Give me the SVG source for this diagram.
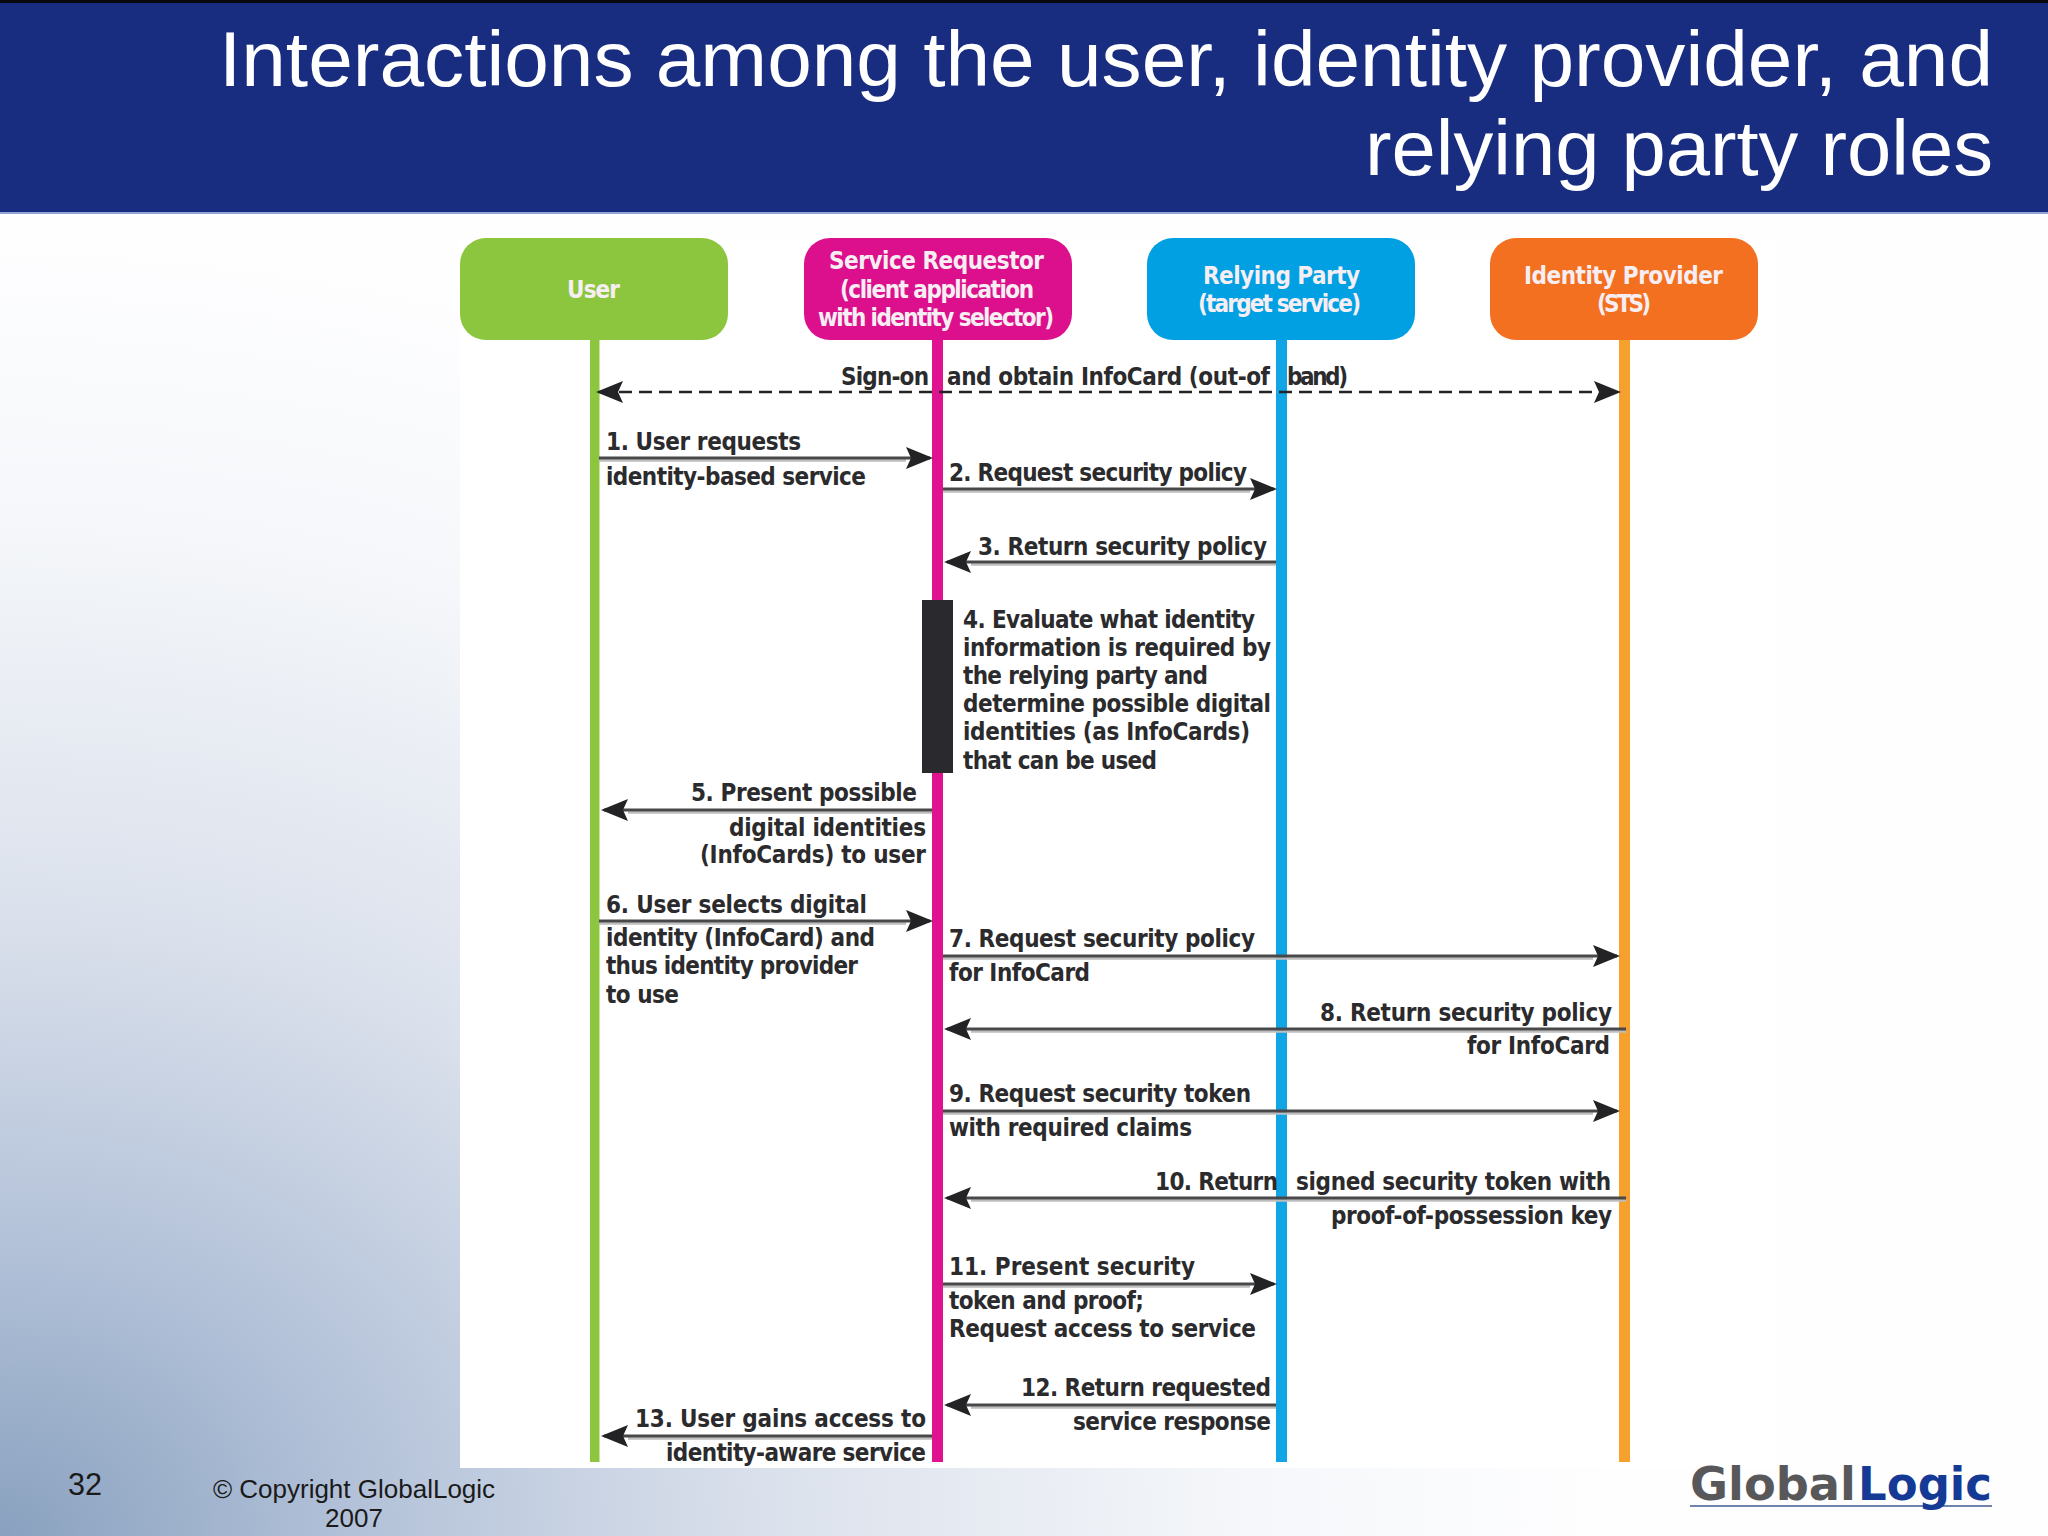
<svg xmlns="http://www.w3.org/2000/svg" width="2048" height="1536" viewBox="0 0 2048 1536">
<style>
text.t{font-family:"Liberation Sans Narrow","DejaVu Sans Condensed","Liberation Sans",sans-serif;font-weight:700;font-size:24px;fill:#2b2b2d}
text.h{font-family:"Liberation Sans Narrow","DejaVu Sans Condensed","Liberation Sans",sans-serif;font-weight:700;font-size:24px;fill:#f6eef2}
.m{fill:none;stroke:#48484a;stroke-width:3}
.s{fill:none;stroke:#bdbdbd;stroke-width:2.5}
.d{fill:none;stroke:#232325;stroke-width:2.5;stroke-dasharray:13 7}
.title{font-family:"Liberation Sans",Arial,sans-serif;font-size:78px;fill:#fff}
.foot{font-family:"Liberation Sans",Arial,sans-serif;fill:#1a1a1a}
</style>
<defs>
<radialGradient id="bg" gradientUnits="userSpaceOnUse" cx="0" cy="0" r="1" gradientTransform="translate(0 1536) scale(1600 1300)">
<stop offset="0" stop-color="#89a1bf"/><stop offset=".22" stop-color="#b2c1d8"/><stop offset=".48" stop-color="#dbe1ec"/><stop offset=".78" stop-color="#f5f7fa"/><stop offset="1" stop-color="#fefeff"/>
</radialGradient>
<marker id="a" markerUnits="userSpaceOnUse" markerWidth="28" markerHeight="24" refX="24" refY="11" orient="auto-start-reverse"><path d="M0 0L27 11L0 22L5 11Z" fill="#232325"/></marker>
</defs>
<rect width="2048" height="1536" fill="#fefeff"/>
<rect width="2048" height="1536" fill="url(#bg)"/>
<g id="header"><rect width="2048" height="213" fill="#182c80"/><rect width="2048" height="3" fill="#08080c"/><rect y="212" width="2048" height="2" fill="#93a5d6"/>
<text class="title" x="1993" y="86" text-anchor="end" textLength="1774" lengthAdjust="spacingAndGlyphs">Interactions among the user, identity provider, and</text>
<text class="title" x="1993" y="175" text-anchor="end" textLength="628" lengthAdjust="spacingAndGlyphs">relying party roles</text></g>
<rect x="460" y="238" width="1316" height="1230" fill="#fff"/>
<g id="node-user"><rect x="590" y="338" width="9.5" height="1124" fill="#8cc63f"/><rect x="460" y="238" width="268" height="102" rx="26" fill="#8cc63f"/>
<text class="h" x="567" y="298" textLength="53">User</text></g>
<g id="node-service-requestor"><rect x="932" y="338" width="11" height="1124" fill="#e0128f"/><rect x="804" y="238" width="268" height="102" rx="26" fill="#dc0f8c"/>
<text class="h" x="829" y="269" textLength="215">Service Requestor</text>
<text class="h" x="840" y="298" textLength="194">(client application</text>
<text class="h" x="818" y="326" textLength="236">with identity selector)</text></g>
<g id="node-relying-party"><rect x="1276" y="338" width="11" height="1124" fill="#12a5e6"/><rect x="1147" y="238" width="268" height="102" rx="26" fill="#00a0e3"/>
<text class="h" x="1203" y="284" textLength="157">Relying Party</text>
<text class="h" x="1198" y="312" textLength="163">(target service)</text></g>
<g id="node-identity-provider"><rect x="1619" y="338" width="11" height="1124" fill="#f6a02d"/><rect x="1490" y="238" width="268" height="102" rx="26" fill="#f37021"/>
<text class="h" x="1524" y="284" textLength="199">Identity Provider</text>
<text class="h" x="1597" y="312" textLength="54">(STS)</text></g>
<rect id="activation" x="922" y="600" width="31" height="173" fill="#2a2a2e"/>
<g id="connectors">
<path class="s" d="M599 460.500H906M943 491.500H1250M971 564.500H1276M932 812.500H628M599 923.500H906M943 958.500H1593M1626 1031.500H971M943 1113.500H1593M1626 1200.500H971M943 1286.500H1250M1276 1407.500H971M932 1438.500H628"/>
<path class="d" d="M599 392H1618" marker-start="url(#a)" marker-end="url(#a)"/>
<path class="m" d="M599 458H930" marker-end="url(#a)"/>
<path class="m" d="M943 489H1274" marker-end="url(#a)"/>
<path class="m" d="M1276 562H947" marker-end="url(#a)"/>
<path class="m" d="M932 810H604" marker-end="url(#a)"/>
<path class="m" d="M599 921H930" marker-end="url(#a)"/>
<path class="m" d="M943 956H1617" marker-end="url(#a)"/>
<path class="m" d="M1626 1029H947" marker-end="url(#a)"/>
<path class="m" d="M943 1111H1617" marker-end="url(#a)"/>
<path class="m" d="M1626 1198H947" marker-end="url(#a)"/>
<path class="m" d="M943 1284H1274" marker-end="url(#a)"/>
<path class="m" d="M1276 1405H947" marker-end="url(#a)"/>
<path class="m" d="M932 1436H604" marker-end="url(#a)"/>
<g id="labels" transform="translate(0 1.5)">
<text class="t" x="841" y="383" textLength="88">Sign-on</text>
<text class="t" x="947" y="383" textLength="323">and obtain InfoCard (out-of</text>
<text class="t" x="1287" y="383" textLength="61">band)</text>
<text class="t" x="606" y="448" textLength="195">1. User requests</text>
<text class="t" x="606" y="483" textLength="260">identity-based service</text>
<text class="t" x="949" y="479" textLength="298">2. Request security policy</text>
<text class="t" x="978" y="553" textLength="289">3. Return security policy</text>
<text class="t" x="963" y="626" textLength="292">4. Evaluate what identity</text>
<text class="t" x="963" y="654" textLength="308">information is required by</text>
<text class="t" x="963" y="682" textLength="245">the relying party and</text>
<text class="t" x="963" y="710" textLength="308">determine possible digital</text>
<text class="t" x="963" y="738" textLength="287">identities (as InfoCards)</text>
<text class="t" x="963" y="767" textLength="194">that can be used</text>
<text class="t" x="691" y="799" textLength="226">5. Present possible</text>
<text class="t" x="729" y="834" textLength="197">digital identities</text>
<text class="t" x="700" y="861" textLength="226">(InfoCards) to user</text>
<text class="t" x="606" y="911" textLength="261">6. User selects digital</text>
<text class="t" x="606" y="944" textLength="269">identity (InfoCard) and</text>
<text class="t" x="606" y="972" textLength="252">thus identity provider</text>
<text class="t" x="606" y="1001" textLength="73">to use</text>
<text class="t" x="949" y="945" textLength="306">7. Request security policy</text>
<text class="t" x="949" y="979" textLength="141">for InfoCard</text>
<text class="t" x="1320" y="1019" textLength="292">8. Return security policy</text>
<text class="t" x="1467" y="1052" textLength="143">for InfoCard</text>
<text class="t" x="949" y="1100" textLength="302">9. Request security token</text>
<text class="t" x="949" y="1134" textLength="243">with required claims</text>
<text class="t" x="1155" y="1188" textLength="123">10. Return</text>
<text class="t" x="1296" y="1188" textLength="315">signed security token with</text>
<text class="t" x="1331" y="1222" textLength="281">proof-of-possession key</text>
<text class="t" x="949" y="1273" textLength="246">11. Present security</text>
<text class="t" x="949" y="1307" textLength="195">token and proof;</text>
<text class="t" x="949" y="1335" textLength="307">Request access to service</text>
<text class="t" x="1021" y="1394" textLength="250">12. Return requested</text>
<text class="t" x="1073" y="1428" textLength="198">service response</text>
<text class="t" x="635" y="1425" textLength="291">13. User gains access to</text>
<text class="t" x="666" y="1459" textLength="260">identity-aware service</text>
</g>
</g>
<g id="footer">
<text class="foot" x="68" y="1495" font-size="31" textLength="34" lengthAdjust="spacingAndGlyphs">32</text>
<text class="foot" x="354" y="1498" font-size="26" text-anchor="middle">© Copyright GlobalLogic</text>
<text class="foot" x="354" y="1527" font-size="26" text-anchor="middle">2007</text>
</g>
<g id="logo">
<path d="M1690 1506H1992" stroke="#6f83ad" stroke-width="2" fill="none"/>
<text x="1690" y="1500" font-family="'DejaVu Sans',sans-serif" font-weight="700" font-size="46" fill="#58585a" textLength="166" lengthAdjust="spacingAndGlyphs">Global</text>
<text x="1858" y="1500" font-family="'DejaVu Sans',sans-serif" font-weight="700" font-size="46" fill="#143a96" textLength="134" lengthAdjust="spacingAndGlyphs">Logic</text>
</g>
</svg>
